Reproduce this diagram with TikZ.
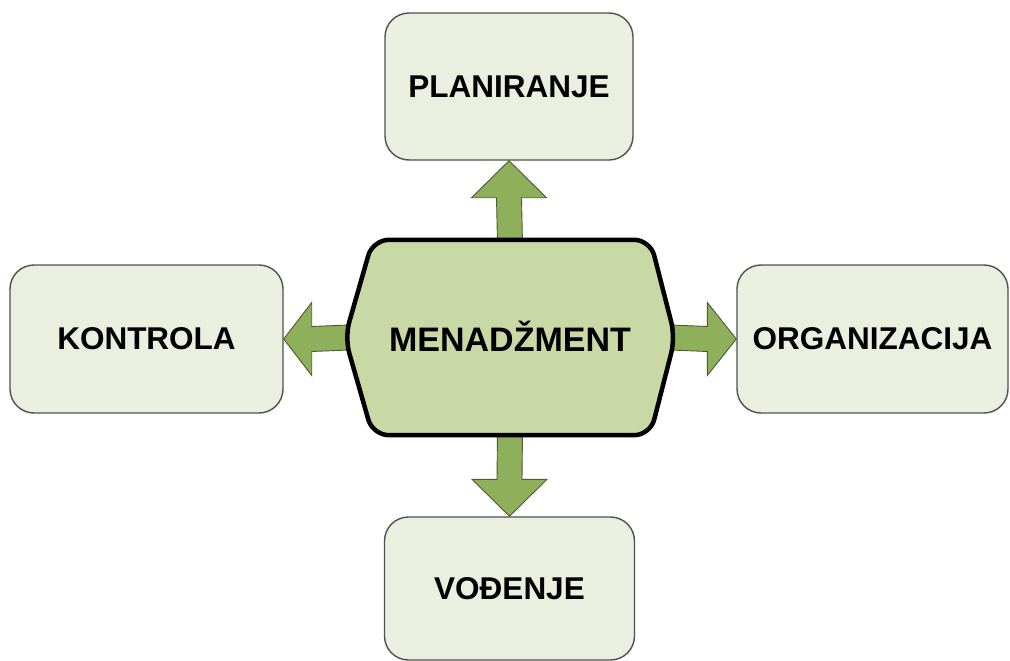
\documentclass[tikz,border=0pt]{standalone}
\usepackage{fontspec}
\setmainfont{Liberation Sans}
\usetikzlibrary{calc}
\definecolor{boxfill}{HTML}{EBEFDF}
\definecolor{boxline}{HTML}{505050}
\definecolor{corefill}{HTML}{C8D9A5}
\definecolor{arrowfill}{HTML}{8FB05A}
\definecolor{arrowline}{HTML}{4B5A30}
\begin{document}
\begin{tikzpicture}[x=1pt,y=-1pt,
  phasebox/.style={draw=boxline, line width=1.4pt, fill=boxfill, rounded corners=24pt,
    font=\bfseries\fontsize{31.5}{36}\selectfont, inner sep=0pt},
  coreshape/.style={draw=black, line width=4.5pt, fill=corefill, rounded corners=16pt},
  blockarrow/.style={draw=arrowline, line width=0.9pt, fill=arrowfill, line join=miter}]
  \useasboundingbox (0,0) rectangle (1010,661);

  % outer function boxes
  \node[phasebox, minimum width=248pt, minimum height=147pt] (plan) at (509,86.5) {PLANIRANJE};
  \node[phasebox, minimum width=273pt, minimum height=148pt] (kontrola) at (146.5,339) {KONTROLA};
  \node[phasebox, minimum width=271pt, minimum height=148pt] (org) at (872.5,339) {ORGANIZACIJA};
  \node[phasebox, minimum width=250pt, minimum height=143pt] (vod) at (509.5,588.5) {VOĐENJE};

  % central node (outline drawn separately)
  \node[minimum width=330pt, minimum height=195pt, inner sep=0pt] (m) at (510,337.5) {};

  % block arrows from the centre to each box
  \draw[blockarrow] ($(m.north)+(-12.5,4)$) -- ($(plan.south)+(-12.5,37)$) -- ($(plan.south)+(-37.5,37)$)
    -- (plan.south) -- ($(plan.south)+(37.5,37)$) -- ($(plan.south)+(12.5,37)$) -- ($(m.north)+(12.5,4)$) -- cycle;
  \draw[blockarrow] ($(m.south)+(-12.5,-4)$) -- ($(vod.north)+(-12.5,-37)$) -- ($(vod.north)+(-37.5,-37)$)
    -- (vod.north) -- ($(vod.north)+(37.5,-37)$) -- ($(vod.north)+(12.5,-37)$) -- ($(m.south)+(12.5,-4)$) -- cycle;
  \draw[blockarrow] ($(m.west)+(4,-12.5)$) -- ($(kontrola.east)+(28,-12.5)$) -- ($(kontrola.east)+(28,-36.5)$)
    -- (kontrola.east) -- ($(kontrola.east)+(28,36.5)$) -- ($(kontrola.east)+(28,12.5)$) -- ($(m.west)+(4,12.5)$) -- cycle;
  \draw[blockarrow] ($(m.east)+(-4,-12.5)$) -- ($(org.west)+(-29,-12.5)$) -- ($(org.west)+(-29,-36.5)$)
    -- (org.west) -- ($(org.west)+(-29,36.5)$) -- ($(org.west)+(-29,12.5)$) -- ($(m.east)+(-4,12.5)$) -- cycle;

  % central hexagonal shape
  \draw[coreshape] (m.west) -- ($(m.north west)+(28,0)$) -- ($(m.north east)+(-25,0)$) -- (m.east)
    -- ($(m.south east)+(-25,0)$) -- ($(m.south west)+(28,0)$) -- cycle;
  \node[font=\bfseries\fontsize{34}{38}\selectfont] at ($(m.center)+(0,-1)$) {MENADŽMENT};
\end{tikzpicture}
\end{document}
